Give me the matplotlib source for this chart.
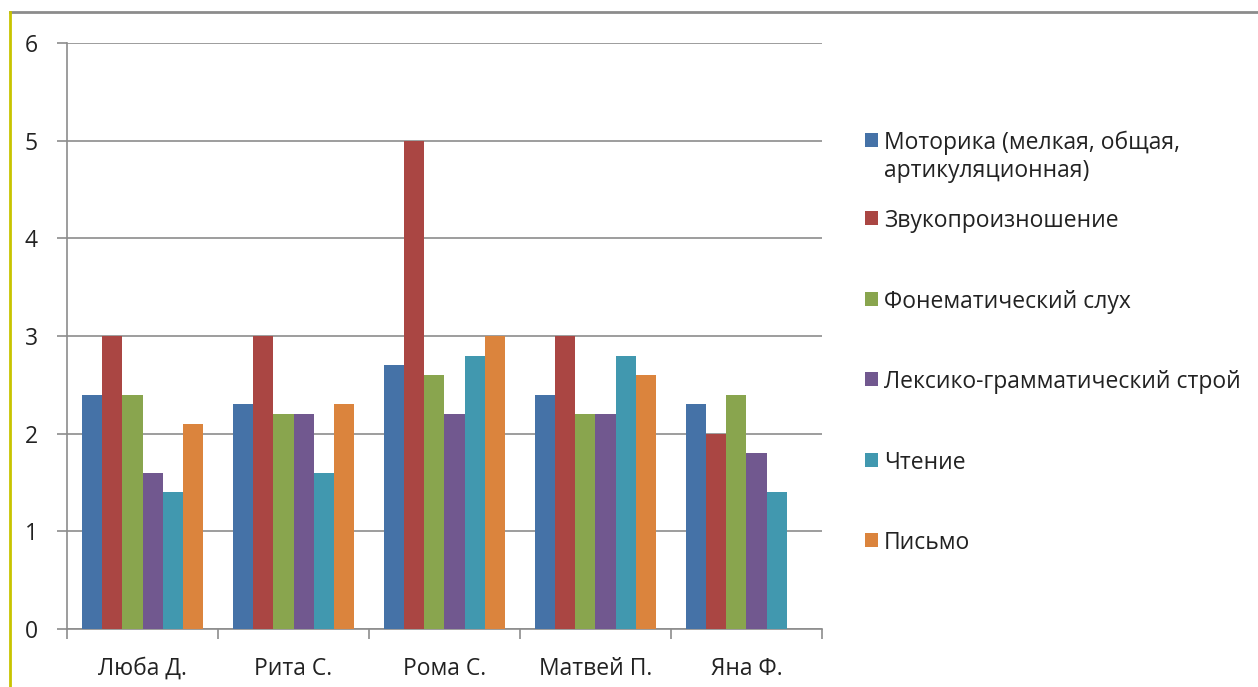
import numpy as np
import matplotlib.pyplot as plt
from matplotlib.patches import Rectangle
from matplotlib.lines import Line2D

plt.rcParams["font.family"] = ["Open Sans", "DejaVu Sans"]

# данные диаграммы
children = ["Люба Д.", "Рита С.", "Рома С.", "Матвей П.", "Яна Ф."]
series_names = [
    "Моторика (мелкая, общая,\nартикуляционная)",
    "Звукопроизношение",
    "Фонематический слух",
    "Лексико-грамматический строй",
    "Чтение",
    "Письмо",
]
motorika = [2.4, 2.3, 2.7, 2.4, 2.3]
zvuk = [3, 3, 5, 3, 2]
fonem = [2.4, 2.2, 2.6, 2.2, 2.4]
leksika = [1.6, 2.2, 2.2, 2.2, 1.8]
chtenie = [1.4, 1.6, 2.8, 2.8, 1.4]
pismo = [2.1, 2.3, 3.0, 2.6, np.nan]

series = [motorika, zvuk, fonem, leksika, chtenie, pismo]
colors = ["#4572A7", "#AA4643", "#89A54E", "#71588F", "#4198AF", "#DB843D"]

W, H = 1258, 687
fig = plt.figure(figsize=(W / 100, H / 100), dpi=100)

# рамка области диаграммы
fig.add_artist(Line2D([10 / W, 1.0], [1 - 12 / H] * 2, color="#8c8c8c", lw=2))
fig.add_artist(Line2D([10 / W] * 2, [0, 1 - 12 / H], color="#c8c400", lw=2))

ax = fig.add_axes([67 / W, 58 / H, 755 / W, 586 / H])

n = len(series)
bar_w = 1 / (n + 1.5)
x = np.arange(len(children))
for i, (vals, col) in enumerate(zip(series, colors)):
    offs = (i - (n - 1) / 2) * bar_w
    ax.bar(x + offs, vals, width=bar_w, color=col, zorder=3)

ax.set_xlim(-0.5, len(children) - 0.5)
ax.set_ylim(0, 6)
ax.set_yticks(range(0, 7))
ax.yaxis.grid(True, color="#8c8c8c", lw=1.2, zorder=0)

ax.set_xticks(x)
ax.set_xticklabels(children, fontsize=16.5, color="#222222")
ax.set_xticks(np.arange(-0.5, len(children)), minor=True)
ax.tick_params(axis="x", which="major", length=0, pad=20)
ax.tick_params(axis="x", which="minor", length=7, color="#8c8c8c", width=1.2)
ax.tick_params(axis="y", length=7, color="#8c8c8c", width=1.2, labelsize=16.5,
               labelcolor="#222222", pad=14)

for side in ["top", "right"]:
    ax.spines[side].set_visible(False)
for side in ["left", "bottom"]:
    ax.spines[side].set_color("#8c8c8c")
    ax.spines[side].set_linewidth(1.2)

# легенда
legend_y = [140, 218, 299, 379, 460, 540]
for name, col, yy in zip(series_names, colors, legend_y):
    fig.add_artist(Rectangle((865 / W, 1 - (yy + 7) / H), 13 / W, 14 / H,
                             facecolor=col, transform=fig.transFigure))
    fig.text(884 / W, 1 - (yy - 9) / H, name, fontsize=16.5, color="#222222",
             va="top", ha="left", linespacing=1.2)

fig.savefig("out.png", dpi=100)
